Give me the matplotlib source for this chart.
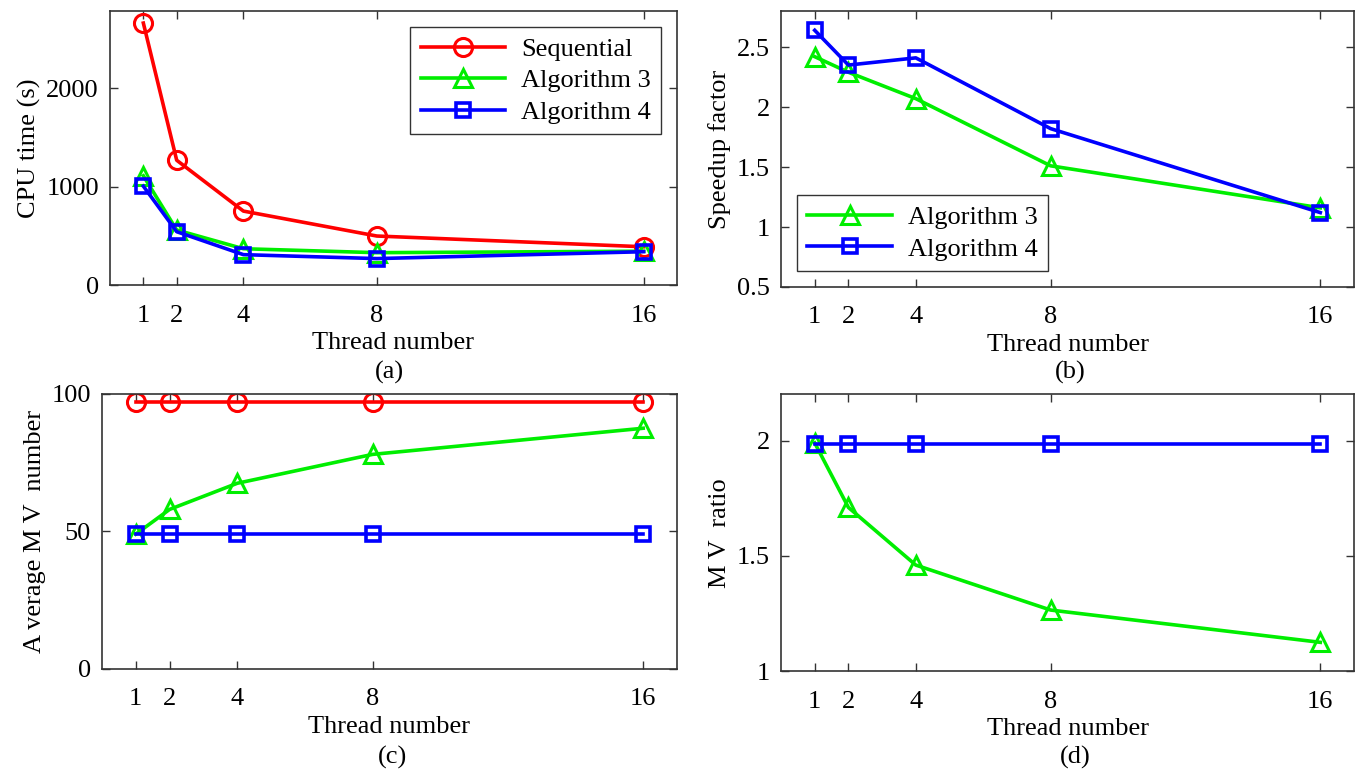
import matplotlib.pyplot as plt

plt.rcParams['font.family'] = ['Liberation Serif', 'DejaVu Serif']

threads = [1, 2, 4, 8, 16]

# (a) CPU time (s)
cpu_seq = [2660, 1268, 752, 499, 390]
cpu_alg3 = [1110, 560, 370, 330, 345]
cpu_alg4 = [1005, 543, 310, 270, 340]

# (b) speedup factor
spd_alg3 = [2.42, 2.29, 2.07, 1.51, 1.16]
spd_alg4 = [2.64, 2.35, 2.41, 1.82, 1.12]

# (c) average MV number
mv_seq = [97, 97, 97, 97, 97]
mv_alg3 = [49, 58, 67.5, 78, 87.5]
mv_alg4 = [49, 49, 49, 49, 49]

# (d) MV ratio
ratio_alg3 = [1.99, 1.71, 1.46, 1.265, 1.125]
ratio_alg4 = [1.985, 1.985, 1.985, 1.985, 1.985]

RED = '#ff0000'
GREEN = '#00ee00'
BLUE = '#0000ff'
FS = 19

fig = plt.figure(figsize=(13.63, 7.75), dpi=100)
ax_a = fig.add_axes([0.0807, 0.632, 0.416, 0.3535])
ax_b = fig.add_axes([0.573, 0.6297, 0.4204, 0.356])
ax_c = fig.add_axes([0.0748, 0.1368, 0.4219, 0.355])
ax_d = fig.add_axes([0.573, 0.134, 0.4204, 0.357])


def seq(ax, y):
    ax.plot(threads, y, '-o', color=RED, mec=RED, label='Sequential',
            lw=2.6, ms=13, mew=2.2, mfc='none')


def alg3(ax, y):
    ax.plot(threads, y, '-^', color=GREEN, mec=GREEN, label='Algorithm 3',
            lw=2.6, ms=13, mew=2.2, mfc='none')


def alg4(ax, y):
    ax.plot(threads, y, '-s', color=BLUE, mec=BLUE, label='Algorithm 4',
            lw=2.6, ms=10.5, mew=2.6, mfc='none')


seq(ax_a, cpu_seq)
alg3(ax_a, cpu_alg3)
alg4(ax_a, cpu_alg4)
ax_a.set_ylim(0, 2780)
ax_a.set_yticks([0, 1000, 2000])
ax_a.set_ylabel('CPU time (s)', fontsize=FS)
leg = ax_a.legend(loc='upper right', fontsize=FS, handlelength=3.2,
                  fancybox=False, edgecolor='#333333', framealpha=1,
                  borderaxespad=0.6, labelspacing=0.3, handletextpad=0.6)
leg.get_frame().set_linewidth(1.0)

alg3(ax_b, spd_alg3)
alg4(ax_b, spd_alg4)
ax_b.set_ylim(0.5, 2.8)
ax_b.set_yticks([0.5, 1, 1.5, 2, 2.5])
ax_b.set_yticklabels(['0.5', '1', '1.5', '2', '2.5'])
ax_b.set_ylabel('Speedup factor', fontsize=FS)
leg = ax_b.legend(loc='lower left', fontsize=FS, handlelength=3.2,
                  fancybox=False, edgecolor='#333333', framealpha=1,
                  borderaxespad=0.6, labelspacing=0.3, handletextpad=0.6)
leg.get_frame().set_linewidth(1.0)

seq(ax_c, mv_seq)
alg3(ax_c, mv_alg3)
alg4(ax_c, mv_alg4)
ax_c.set_ylim(0, 100)
ax_c.set_yticks([0, 50, 100])
ax_c.set_ylabel('A verage M V  number', fontsize=FS)

alg3(ax_d, ratio_alg3)
alg4(ax_d, ratio_alg4)
ax_d.set_ylim(1, 2.2)
ax_d.set_yticks([1, 1.5, 2])
ax_d.set_yticklabels(['1', '1.5', '2'])
ax_d.set_ylabel('M V  ratio', fontsize=FS)

for ax in [ax_a, ax_b, ax_c, ax_d]:
    ax.set_xlim(0, 17)
    ax.set_xticks(threads)
    ax.set_xlabel('Thread number', fontsize=FS, labelpad=4)
    ax.tick_params(direction='in', length=6, width=1, labelsize=FS,
                   top=True, right=True, color='#333333')
    ax.tick_params(axis='x', pad=14)
    ax.tick_params(axis='y', pad=8)
    for sp in ax.spines.values():
        sp.set_color('#333333')
        sp.set_linewidth(1.2)

fig.text(0.286, 0.519, '(a)', ha='center', va='center', fontsize=FS)
fig.text(0.785, 0.519, '(b)', ha='center', va='center', fontsize=FS)
fig.text(0.288, 0.022, '(c)', ha='center', va='center', fontsize=FS)
fig.text(0.789, 0.022, '(d)', ha='center', va='center', fontsize=FS)

fig.savefig('out.png', dpi=100)
